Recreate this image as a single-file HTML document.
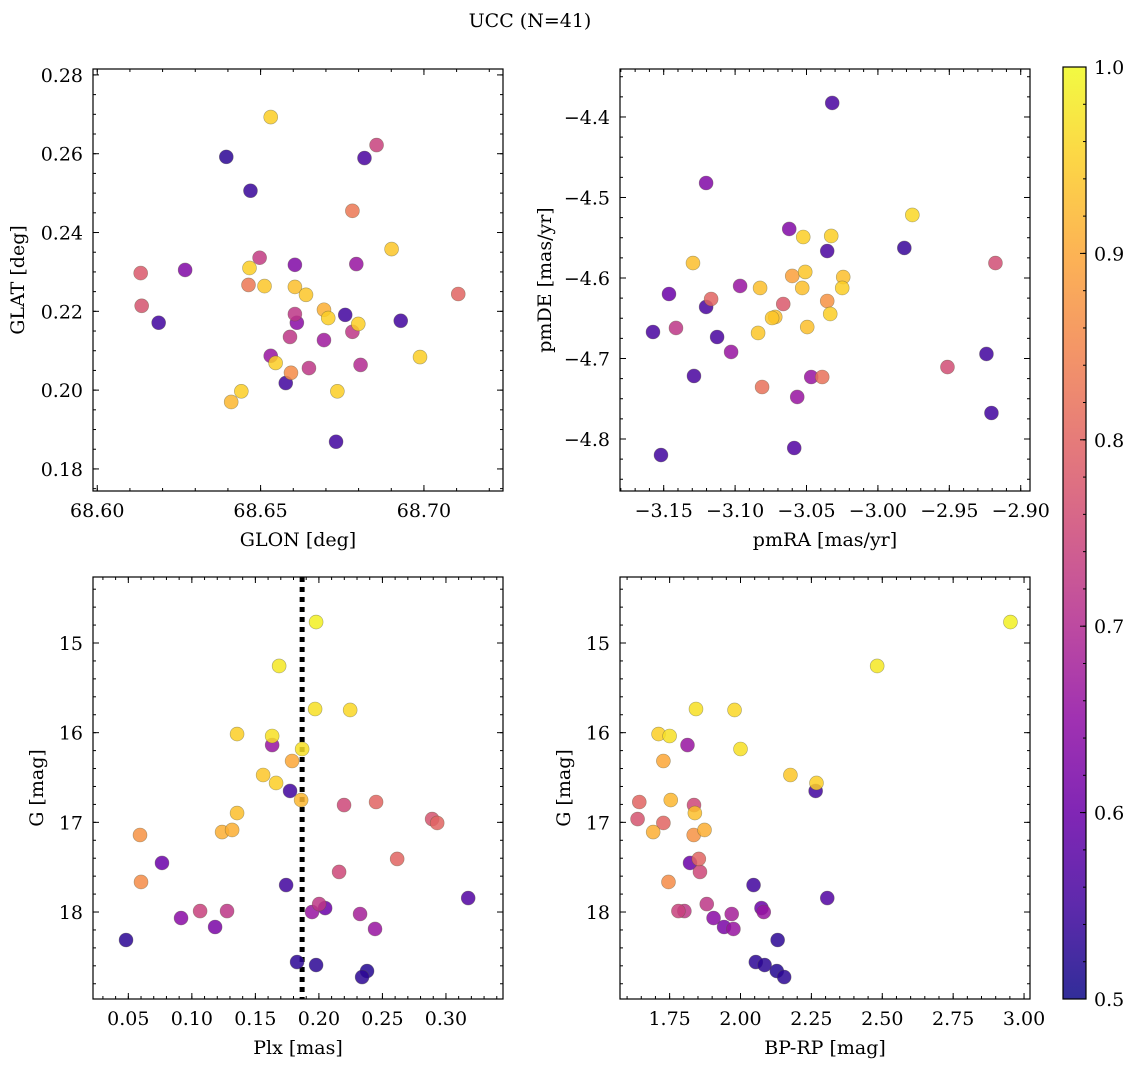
<!DOCTYPE html>
<html><head><meta charset="utf-8">
<style>
html,body{margin:0;padding:0;background:#fff;}
svg{display:block;font-family:"DejaVu Serif","Liberation Serif",serif;}
</style></head>
<body>
<svg id="fig" width="1136" height="1067" viewBox="0 0 1136 1067" xmlns="http://www.w3.org/2000/svg">
<text x="530" y="27" font-size="19" text-anchor="middle">UCC (N=41)</text>
</svg>
<script>
// ---- Data ----
const glon = [68.6531,68.6395,68.6469,68.6818,68.6855,68.6781,68.6901,68.6133,68.6269,68.6466,68.6497,68.6605,68.6463,68.6512,68.6605,68.6639,68.6793,68.6136,68.6188,68.6694,68.6707,68.6759,68.6605,68.6611,68.6929,68.7105,68.6799,68.6590,68.6694,68.6781,68.6531,68.6546,68.6648,68.6593,68.6806,68.6988,68.6577,68.6441,68.6735,68.6410,68.6731];
const glat = [0.2693,0.2592,0.2506,0.2589,0.2622,0.2455,0.2358,0.2297,0.2305,0.2310,0.2336,0.2318,0.2267,0.2264,0.2262,0.2242,0.2320,0.2214,0.2171,0.2204,0.2183,0.2191,0.2193,0.2171,0.2176,0.2244,0.2168,0.2135,0.2127,0.2148,0.2087,0.2069,0.2056,0.2044,0.2064,0.2084,0.2018,0.1997,0.1997,0.1970,0.1869];
const probTop = [0.95,0.53,0.54,0.56,0.74,0.83,0.94,0.78,0.63,0.95,0.73,0.63,0.83,0.94,0.93,0.94,0.66,0.77,0.55,0.91,0.95,0.55,0.72,0.64,0.55,0.80,0.95,0.72,0.67,0.72,0.66,0.95,0.72,0.86,0.70,0.95,0.55,0.95,0.95,0.92,0.55];
const pmra = [-3.0320,-3.1203,-2.9759,-3.0327,-3.0621,-3.0523,-3.1295,-3.0355,-2.9815,-2.9177,-3.0600,-3.0243,-3.0825,-3.0530,-3.0250,-3.0965,-3.1463,-3.1168,-3.0355,-3.0663,-3.1414,-3.1126,-3.1203,-3.0839,-3.0719,-3.0741,-3.1575,-3.0334,-3.0495,-3.1028,-3.1288,-3.0811,-3.0467,-3.0390,-3.0565,-2.9513,-2.9240,-2.9205,-3.0586,-3.1519,-3.0509];
const pmde = [-4.3826,-4.4820,-4.5217,-4.5478,-4.5391,-4.5491,-4.5814,-4.5665,-4.5627,-4.5814,-4.5975,-4.5988,-4.6124,-4.6124,-4.6124,-4.6099,-4.6199,-4.6261,-4.6286,-4.6323,-4.6621,-4.6733,-4.6360,-4.6683,-4.6484,-4.6497,-4.6671,-4.6447,-4.6609,-4.6919,-4.7217,-4.7354,-4.7230,-4.7230,-4.7478,-4.7106,-4.6944,-4.7677,-4.8112,-4.8199,-4.5925];
const probPm = [0.56,0.63,0.96,0.95,0.63,0.95,0.93,0.56,0.54,0.76,0.89,0.93,0.93,0.93,0.95,0.66,0.60,0.80,0.87,0.78,0.72,0.56,0.56,0.94,0.93,0.94,0.56,0.95,0.93,0.66,0.56,0.82,0.66,0.82,0.66,0.76,0.55,0.55,0.57,0.55,0.94];
const plx = [0.1978,0.1687,0.1970,0.2246,0.1356,0.1632,0.1632,0.1868,0.1789,0.1561,0.1663,0.1773,0.1860,0.1356,0.2450,0.2198,0.2891,0.2931,0.0592,0.1238,0.1317,0.2616,0.0765,0.2159,0.0600,0.1742,0.3175,0.1277,0.2002,0.2049,0.1065,0.1946,0.0915,0.2324,0.1183,0.2442,0.0482,0.1828,0.1978,0.2379,0.2340];
const gmag = [14.766,15.256,15.736,15.747,16.015,16.037,16.138,16.182,16.316,16.472,16.561,16.650,16.751,16.896,16.773,16.807,16.963,17.007,17.141,17.108,17.085,17.408,17.453,17.553,17.665,17.699,17.844,17.989,17.911,17.956,17.989,18.000,18.067,18.022,18.167,18.189,18.312,18.558,18.591,18.658,18.725];
const bprp = [2.952,2.482,1.843,1.979,1.711,1.750,1.813,2.000,1.728,2.176,2.268,2.265,1.754,1.839,1.643,1.836,1.637,1.728,1.835,1.692,1.873,1.853,1.822,1.857,1.746,2.046,2.306,1.802,1.881,2.074,1.781,2.082,1.905,1.969,1.942,1.975,2.131,2.054,2.085,2.128,2.154];
const probBot = [0.99,0.98,0.97,0.96,0.95,0.97,0.66,0.97,0.90,0.94,0.95,0.55,0.92,0.93,0.80,0.75,0.77,0.80,0.87,0.91,0.91,0.80,0.60,0.75,0.86,0.55,0.57,0.72,0.72,0.60,0.74,0.66,0.64,0.68,0.62,0.66,0.53,0.53,0.53,0.52,0.53];
const plxLine = 0.1868;

// ---- helpers ----
const NS = "http://www.w3.org/2000/svg";
const svg = document.getElementById('fig');
function mk(tag, attrs, parent){ const e=document.createElementNS(NS,tag); for(const k in attrs) e.setAttribute(k,attrs[k]); (parent||svg).appendChild(e); return e; }
const stops = ["#0d0887","#41049d","#6a00a8","#8f0da4","#b12a90","#cc4778","#e16462","#f2844b","#fca636","#fcce25","#f0f921"];
function hex(h){return [parseInt(h.slice(1,3),16),parseInt(h.slice(3,5),16),parseInt(h.slice(5,7),16)];}
function plasma(t){ t=Math.max(0,Math.min(1,t)); const f=t*10, i=Math.min(9,Math.floor(f)), r=f-i; const a=hex(stops[i]), b=hex(stops[i+1]); return `rgb(${a.map((v,k)=>Math.round(v+(b[k]-v)*r)).join(',')})`; }
function cmap(p){ return plasma((p-0.5)/0.5); }
function fmt(v,d){ const s=Math.abs(v).toFixed(d); return (v<-1e-9?'\u2212':'')+s; }
const FS = 19;

function panel(cfg){
  const {L,T,R,B,xd,yd,name} = cfg;
  const sx = v => L+(v-xd[0])/(xd[1]-xd[0])*(R-L);
  const sy = v => T+(v-yd[0])/(yd[1]-yd[0])*(B-T);
  const g = mk('g',{});
  
  
  const tickG = mk('g',{stroke:'#000','stroke-width':1},g);
  function ticks(start,stop,step,fn){ const n=Math.round((stop-start)/step); for(let i=0;i<=n;i++) fn(start+i*step); }
  ticks(cfg.xminor[0],cfg.xminor[1],cfg.xminor[2],v=>{const x=sx(v); if(x<L||x>R)return; mk('line',{x1:x,x2:x,y1:B,y2:B-3},tickG); mk('line',{x1:x,x2:x,y1:T,y2:T+3},tickG);});
  ticks(cfg.yminor[0],cfg.yminor[1],cfg.yminor[2],v=>{const y=sy(v); if(y<T||y>B)return; mk('line',{x1:L,x2:L+3,y1:y,y2:y},tickG); mk('line',{x1:R,x2:R-3,y1:y,y2:y},tickG);});
  ticks(cfg.xmaj[0],cfg.xmaj[1],cfg.xmaj[2],v=>{const x=sx(v); mk('line',{x1:x,x2:x,y1:B,y2:B-6},tickG); mk('line',{x1:x,x2:x,y1:T,y2:T+6},tickG);
    const t=mk('text',{x:x,y:B+26,'font-size':FS,'text-anchor':'middle'},g); t.textContent=fmt(v,cfg.xdec);
     });
  ticks(cfg.ymaj[0],cfg.ymaj[1],cfg.ymaj[2],v=>{const y=sy(v); mk('line',{x1:L,x2:L+6,y1:y,y2:y},tickG); mk('line',{x1:R,x2:R-6,y1:y,y2:y},tickG);
    const t=mk('text',{x:L-10,y:y+7,'font-size':FS,'text-anchor':'end'},g); t.textContent=fmt(v,cfg.ydec);
     });
  const xl=mk('text',{x:(L+R)/2,y:B+55,'font-size':FS,'text-anchor':'middle'},g); xl.textContent=cfg.xlabel;
   
  const yl=mk('text',{x:0,y:0,'font-size':FS,'text-anchor':'middle',transform:`translate(${cfg.ylx},${(T+B)/2}) rotate(-90)`},g); yl.textContent=cfg.ylabel;
   
  const clipId='clip'+name; const cp=mk('clipPath',{id:clipId},g); mk('rect',{x:L,y:T,width:R-L,height:B-T},cp);
  const pg=mk('g',{'clip-path':`url(#${clipId})`},g);
  if(cfg.vline!==undefined){ const vx=sx(cfg.vline); const ln=mk('line',{x1:vx,x2:vx,y1:T,y2:B,stroke:'#000','stroke-width':5,'stroke-dasharray':'5,5'},pg);
      }
  const order = cfg.c.map((c,i)=>i).sort((a,b)=>cfg.c[a]-cfg.c[b]);
  order.forEach(i=>{
    const c=mk('circle',{cx:sx(cfg.x[i]),cy:sy(cfg.y[i]),r:7,fill:cmap(cfg.c[i]),'fill-opacity':0.85,stroke:'rgba(90,90,60,0.5)','stroke-width':0.6},pg);
    
    
  });
  const fr=mk('rect',{x:L,y:T,width:R-L,height:B-T,fill:'none',stroke:'#000','stroke-width':1.2},g);
   
}

panel({name:'glon-glat-panel',L:93,T:69,R:503,B:491,xd:[68.5987,68.7242],yd:[0.2815,0.1744],x:glon,y:glat,c:probTop,
  xmaj:[68.60,68.70,0.05],xminor:[68.59,68.73,0.01],ymaj:[0.18,0.28,0.02],yminor:[0.175,0.28,0.005],xdec:2,ydec:2,xlabel:'GLON [deg]',ylabel:'GLAT [deg]',ylx:24});
panel({name:'pm-panel',L:620,T:69,R:1030,B:491,xd:[-3.1806,-2.8935],yd:[-4.3404,-4.8646],x:pmra,y:pmde,c:probPm,
  xmaj:[-3.15,-2.90,0.05],xminor:[-3.18,-2.89,0.01],ymaj:[-4.8,-4.4,0.1],yminor:[-4.85,-4.35,0.025],xdec:2,ydec:1,xlabel:'pmRA [mas/yr]',ylabel:'pmDE [mas/yr]',ylx:551});
panel({name:'plx-g-panel',L:93,T:577,R:503,B:999,xd:[0.0222,0.3449],yd:[14.264,18.970],x:plx,y:gmag,c:probBot,vline:plxLine,
  xmaj:[0.05,0.30,0.05],xminor:[0.03,0.34,0.01],ymaj:[15,18,1],yminor:[14.4,18.8,0.2],xdec:2,ydec:0,xlabel:'Plx [mas]',ylabel:'G [mag]',ylx:43});
panel({name:'cmd-panel',L:620,T:577,R:1030,B:999,xd:[1.575,3.021],yd:[14.264,18.970],x:bprp,y:gmag,c:probBot,
  xmaj:[1.75,3.00,0.25],xminor:[1.60,3.00,0.05],ymaj:[15,18,1],yminor:[14.4,18.8,0.2],xdec:2,ydec:0,xlabel:'BP-RP [mag]',ylabel:'G [mag]',ylx:570});

// colorbar
const cbL=1063,cbR=1086,cbT=67,cbB=999;
const cbg=mk('g',{});


const grad=mk('linearGradient',{id:'cbgrad',x1:0,y1:1,x2:0,y2:0},mk('defs',{},cbg));
for(let i=0;i<=20;i++){ mk('stop',{offset:i/20,'stop-color':plasma(i/20),'stop-opacity':0.85},grad); }
mk('rect',{x:cbL,y:cbT,width:cbR-cbL,height:cbB-cbT,fill:'url(#cbgrad)',stroke:'#000','stroke-width':1.2},cbg);
const cbTicks=[0.5,0.6,0.7,0.8,0.9,1.0];
const cy=v=>cbB-(v-0.5)/0.5*(cbB-cbT);
for(let v=0.5;v<=1.0001;v+=0.02){ const y=cy(v); mk('line',{x1:cbR,x2:cbR-3,y1:y,y2:y,stroke:'#000'},cbg); }
cbTicks.forEach(v=>{ const y=cy(v); mk('line',{x1:cbR,x2:cbR-6,y1:y,y2:y,stroke:'#000'},cbg);
  const t=mk('text',{x:cbR+8,y:y+7,'font-size':FS},cbg); t.textContent=v.toFixed(1);
    });
</script>
</body></html>
